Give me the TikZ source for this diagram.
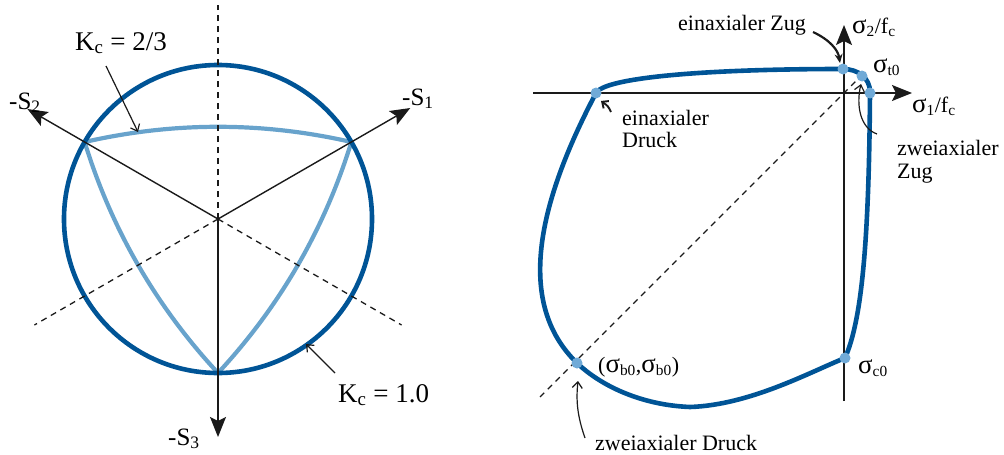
\documentclass[tikz,border=0pt]{standalone}
\usepackage{fontspec}
\setmainfont{Liberation Serif}
\usetikzlibrary{arrows.meta}
\definecolor{dblue}{RGB}{0,84,150}
\definecolor{lblue}{RGB}{104,163,204}
\definecolor{dotblue}{RGB}{112,170,215}
\definecolor{ink}{RGB}{26,26,26}
\newcommand\ssub[1]{\textsubscript{#1}}
\newcommand\sig{\scalebox{1.22}{σ}}
\begin{document}
\begin{tikzpicture}[x=1pt,y=-1pt,
  axis/.style={draw=ink, line width=1.4pt},
  bigtip/.style={-{Stealth[length=20pt,width=16pt,inset=4pt]}},
  guide/.style={draw=ink, line width=1.3pt, dash pattern=on 6pt off 5pt},
  strong/.style={draw=dblue, line width=4.6pt},
  weak/.style={draw=lblue, line width=4.2pt, line join=round},
  note/.style={draw=ink, line width=1.2pt, -{Straight Barb[length=6pt,width=10pt]}},
  notethick/.style={draw=ink, line width=1.9pt, -{Straight Barb[length=5pt,width=9pt]}},
  zugtip/.style={draw=ink, line width=2.2pt, -{Stealth[length=9pt,width=8pt]}},
  lbig/.style={font=\fontsize{27}{30}\selectfont, inner sep=0pt},
  lmid/.style={font=\fontsize{25}{28}\selectfont, inner sep=0pt},
  lsm/.style={font=\fontsize{22}{24}\selectfont, inner sep=0pt},
  dot/.style={circle, fill=dotblue, minimum size=11pt, inner sep=0pt},
]
\useasboundingbox (0,0) rectangle (1004,455);

% ---------------- left diagram ----------------
\coordinate (C) at (218,219);
\begin{scope}[shift={(C)}, yscale=-1]
  \draw[weak] (150:154) .. controls (114.6:107) and (65.4:107) .. (30:154)
              .. controls (-5.4:107) and (-54.6:107) .. (-90:154)
              .. controls (-125.4:107) and (-174.6:107) .. cycle;
  \draw[strong] (0,0) circle[radius=154];
  \coordinate (S1) at (30:222);
  \coordinate (S2) at (150:220);
  \coordinate (S3) at (-90:218);
  \coordinate (D1) at (90:214);
  \coordinate (D2) at (210:212);
  \coordinate (D3) at (330:212);
\end{scope}
\draw[guide] (C) -- (D1);
\draw[guide] (C) -- (D2);
\draw[guide] (C) -- (D3);
\draw[axis, bigtip] (C) -- (S1);
\draw[axis, bigtip] (C) -- (S2);
\draw[axis, bigtip] (C) -- (S3);

\node[lmid, anchor=base west] (lS1) at (402,105) {-S\ssub{1}};
\node[lmid, anchor=base west] (lS2) at (9,109) {-S\ssub{2}};
\node[lmid, anchor=base west] (lS3) at (168,445) {-S\ssub{3}};
\node[lbig, anchor=base west] (lK2) at (75,50) {K\ssub{c} = 2/3};
\node[lbig, anchor=base west] (lK1) at (338,402) {K\ssub{c} = 1.0};
\coordinate (k2a) at (106,66);
\coordinate (k2b) at (138,132);
\coordinate (k1a) at (335,373);
\coordinate (k1b) at (306,344);
\draw[note] (k2a) -- (k2b);
\draw[note] (k1a) -- (k1b);

% ---------------- right diagram ----------------
\coordinate (xa0) at (533,93);
\coordinate (xa1) at (912,93);
\coordinate (ya0) at (844,401);
\coordinate (ya1) at (844,25);
\coordinate (dg0) at (540,397);
\coordinate (dg1) at (862,75);
\draw[axis, bigtip] (xa0) -- (xa1);
\draw[axis, bigtip] (ya0) -- (ya1);
\draw[guide] (dg0) -- (dg1);

\draw[strong, line join=round] (596,93) .. controls (604,78) and (700,69) .. (843,69)
   .. controls (858,69) and (870,78) .. (870,92)
   .. controls (869,240) and (862,320) .. (845,358)
   .. controls (810,372) and (750,405) .. (690,407)
   .. controls (640,405) and (600,385) .. (577,363)
   .. controls (515,303) and (538,203) .. cycle;

\node[dot] (pUD) at (596,93) {};
\node[dot] (pUZ) at (843,69) {};
\node[dot] (pT)  at (862,76) {};
\node[dot] (pX)  at (870,93) {};
\node[dot] (pC)  at (845,358) {};
\node[dot] (pB)  at (577,363) {};

\node[lsm, anchor=base] (tUZ) at (742,30) {einaxialer Zug};
\node[lsm, anchor=base west] (tS2) at (852,33) {\sig\ssub{2}/f\ssub{c}};
\node[lsm, anchor=base west] (tT0) at (873,72) {\sig\ssub{t0}};
\node[lsm, anchor=base west] (tS1) at (912,112) {\sig\ssub{1}/f\ssub{c}};
\node[lsm, anchor=base west] (tZZa) at (897,155) {zweiaxialer};
\node[lsm, anchor=base west] (tZZb) at (897,178) {Zug};
\node[lsm, anchor=base west] (tUDa) at (622,125) {einaxialer};
\node[lsm, anchor=base west] (tUDb) at (622,147) {Druck};
\node[lsm, anchor=base west] (tB0) at (598,372) {(\sig\ssub{b0},\sig\ssub{b0})};
\node[lsm, anchor=base west] (tC0) at (858,373) {\sig\ssub{c0}};
\node[lsm, anchor=base west] (tZD) at (595,450) {zweiaxialer Druck};

\coordinate (a1s) at (813,32);
\coordinate (a1e) at (840,63);
\coordinate (a2s) at (877,134);
\coordinate (a2e) at (861,84);
\coordinate (a3s) at (611,112);
\coordinate (a3e) at (601,101);
\coordinate (a4s) at (585,438);
\coordinate (a4e) at (578,381);
\draw[zugtip] (a1s) .. controls (830,40) and (838,50) .. (a1e);
\draw[note] (a2s) .. controls (860,128) and (856,105) .. (a2e);
\draw[notethick] (a3s) .. controls (608,106) .. (a3e);
\draw[note] (a4s) .. controls (577,415) and (576,400) .. (a4e);
\end{tikzpicture}
\end{document}
